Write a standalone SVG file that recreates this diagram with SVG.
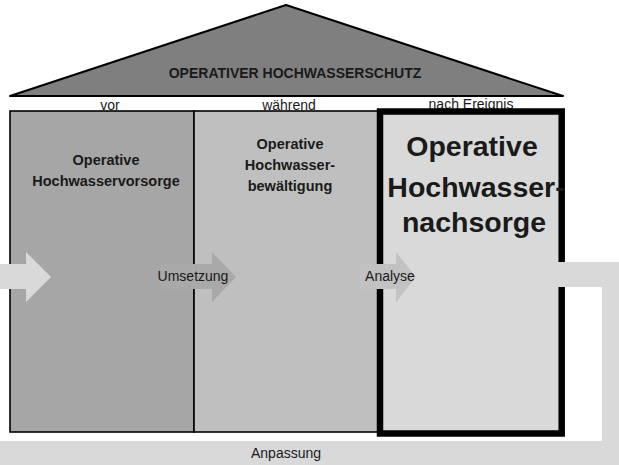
<svg xmlns="http://www.w3.org/2000/svg" width="619" height="465" viewBox="0 0 619 465">
<style>
text{font-family:"Liberation Sans",Arial,sans-serif;fill:#1a1a1a}
.lbl{font-size:14px;text-anchor:middle}
.b{font-weight:bold;text-anchor:middle}
.box{stroke:#000;stroke-width:1.6}
</style>
<rect x="0" y="0" width="619" height="465" fill="#fff"/>
<g id="phase-labels">
<text class="lbl" x="110" y="109.5">vor</text>
<text class="lbl" x="289" y="109.5">während</text>
<text class="lbl" x="471" y="109">nach Ereignis</text>
</g>
<g id="roof">
<polygon points="10,96 286,5 563,96" fill="#7f7f7f" stroke="#000" stroke-width="2" stroke-linejoin="round"/>
<text class="b" x="295" y="78" font-size="14">OPERATIVER HOCHWASSERSCHUTZ</text>
</g>
<g id="loop">
<path d="M555,262 H619 V465 H0 V441 H602 V287 H555 Z" fill="#d9d9d9"/>
</g>
<g id="vorsorge">
<rect class="box" x="10" y="111" width="184" height="321" fill="#a6a6a6"/>
<text class="b" x="106" y="165" font-size="14.5">Operative</text>
<text class="b" x="106" y="186" font-size="14.5">Hochwasservorsorge</text>
</g>
<g id="bewaeltigung">
<rect class="box" x="194" y="111" width="185" height="321" fill="#bfbfbf"/>
<text class="b" x="290" y="149" font-size="14.5">Operative</text>
<text class="b" x="290" y="170" font-size="14.5">Hochwasser-</text>
<text class="b" x="290" y="191" font-size="14.5">bewältigung</text>
</g>
<g id="nachsorge">
<rect x="380" y="111.5" width="181.7" height="322" fill="#d9d9d9" stroke="#000" stroke-width="6.5"/>
<text class="b" x="472" y="156" font-size="28.5">Operative</text>
<text class="b" x="476" y="197" font-size="28.5">Hochwasser-</text>
<text class="b" x="474" y="232" font-size="28.5">nachsorge</text>
</g>
<g id="loop-top">
<rect x="555" y="262" width="48" height="25" fill="#d9d9d9"/>
</g>
<g id="connectors">
<polygon points="0,264 26,264 26,252 51,277 26,302 26,289 0,289" fill="#d9d9d9"/>
<polygon points="160,264 212,264 212,252 236,277 212,302 212,289 160,289" fill="#a9a9a9"/>
<polygon points="360,264 396,264 396,252 416,277 396,302 396,289 360,289" fill="#c2c2c2"/>
<text class="lbl" x="193" y="281">Umsetzung</text>
<text class="lbl" x="390" y="281">Analyse</text>
<text class="lbl" x="286" y="458" font-size="13.6">Anpassung</text>
</g>
</svg>
